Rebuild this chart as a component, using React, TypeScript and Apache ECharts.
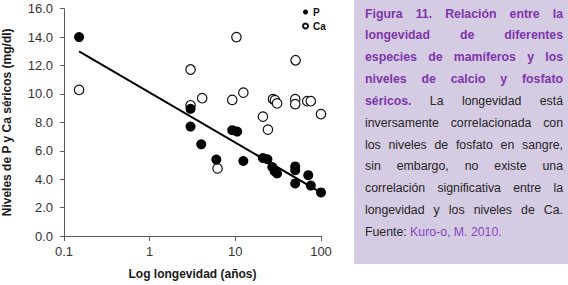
import React, { useEffect, useRef } from "react";
import * as echarts from "echarts";

// ---- data ----
const pLongevity = [0.15, 3, 3, 4, 6, 9.2, 10.5, 12.4, 21, 23.7, 27, 28.8, 30.7, 50, 50, 50, 71, 76, 100];
const pLevel = [14.0, 8.95, 7.7, 6.45, 5.38, 7.45, 7.35, 5.28, 5.49, 5.4, 4.86, 4.56, 4.4, 4.9, 4.63, 3.7, 4.28, 3.55, 3.07];
const caLongevity = [0.15, 3, 3, 4.1, 6.2, 9.2, 10.3, 12.4, 21, 24, 27.5, 29, 30.7, 50.5, 50, 50, 69, 76, 100];
const caLevel = [10.28, 11.72, 9.2, 9.7, 4.76, 9.58, 14.0, 10.09, 8.4, 7.49, 9.63, 9.56, 9.33, 12.37, 9.63, 9.28, 9.49, 9.49, 8.58];
const trendLongevity = [0.15, 100];
const trendLevel = [13.0, 3.05];
const xTickLabels = ["0.1", "1", "10", "100"];
const seriesNames = ["P", "Ca"];

const captionLines: [string, string][][] = [
  [["Figura 11. Relación entre la", "h"]],
  [["longevidad de diferentes", "h"]],
  [["especies de mamíferos y los", "h"]],
  [["niveles de calcio y fosfato", "h"]],
  [["séricos.", "h"], ["La longevidad está", "n"]],
  [["inversamente correlacionada con", "n"]],
  [["los niveles de fosfato en sangre,", "n"]],
  [["sin embargo, no existe una", "n"]],
  [["correlación significativa entre la", "n"]],
  [["longevidad y los niveles de Ca.", "n"]],
  [["Fuente:", "n"], ["Kuro-o, M. 2010.", "l"]],
];

const FONT = '"Liberation Sans", Arial, Helvetica, sans-serif';
const styleOf: Record<string, { fill: string; fontWeight: string }> = {
  h: { fill: "#7d35ad", fontWeight: "bold" },
  n: { fill: "#262626", fontWeight: "normal" },
  l: { fill: "#8447c2", fontWeight: "normal" },
};

function buildCaption(): any[] {
  const ctx = document.createElement("canvas").getContext("2d")!;
  const fs = 12.3;
  const x0 = 365;
  const x1 = 563;
  const y0 = 13.5;
  const lh = 21.85;
  const els: any[] = [];
  captionLines.forEach((line, i) => {
    const words: { t: string; k: string; w: number }[] = [];
    line.forEach(([txt, k]) => {
      txt.split(" ").forEach((t) => {
        ctx.font = `${styleOf[k].fontWeight} ${fs}px ${FONT}`;
        words.push({ t, k, w: ctx.measureText(t).width });
      });
    });
    const total = words.reduce((a, b) => a + b.w, 0);
    const last = i === captionLines.length - 1;
    ctx.font = `normal ${fs}px ${FONT}`;
    const gap = last || words.length < 2 ? ctx.measureText(" ").width : (x1 - x0 - total) / (words.length - 1);
    let x = x0;
    words.forEach((w) => {
      els.push({
        type: "text",
        x,
        y: y0 + i * lh,
        z: 10,
        style: {
          text: w.t,
          fill: styleOf[w.k].fill,
          fontWeight: styleOf[w.k].fontWeight,
          fontSize: fs,
          fontFamily: FONT,
          verticalAlign: "middle",
          align: "left",
        },
      });
      x += w.w + gap;
    });
  });
  return els;
}

export default function App() {
  const ref = useRef<HTMLDivElement>(null);
  useEffect(() => {
    document.body.style.margin = "0";
    const chart = echarts.init(ref.current!, undefined, { renderer: "svg" });
    const axisColor = "#5a5a5a";
    chart.setOption({
      animation: false,
      backgroundColor: "#ffffff",
      textStyle: { fontFamily: FONT },
      grid: { left: 64, right: 247, top: 8.7, bottom: 47, containLabel: false },
      legend: {
        data: seriesNames,
        orient: "vertical",
        left: 302,
        top: 7,
        itemWidth: 5,
        itemHeight: 5,
        itemGap: 4,
        padding: 0,
        icon: "circle",
        textStyle: { fontSize: 10, fontWeight: "bold", color: "#111", fontFamily: FONT },
      },
      xAxis: {
        type: "log",
        logBase: 10,
        min: 0.1,
        max: 100,
        name: "Log longevidad (años)",
        nameLocation: "middle",
        nameGap: 32,
        nameTextStyle: { fontSize: 12, fontWeight: "bold", color: "#1a1a1a", fontFamily: FONT },
        axisLine: { lineStyle: { color: axisColor, width: 1 } },
        axisTick: { show: true, inside: false, length: 5, lineStyle: { color: axisColor } },
        minorTick: { show: false },
        splitLine: { show: false },
        axisLabel: {
          fontSize: 13,
          color: "#333",
          margin: 9,
          fontFamily: FONT,
          formatter: (v: number) => {
            const idx = Math.round(Math.log10(v)) + 1;
            return xTickLabels[idx] ?? String(v);
          },
        },
      },
      yAxis: {
        type: "value",
        min: 0,
        max: 16,
        interval: 2,
        name: "Niveles de P y Ca séricos (mg/dl)",
        nameLocation: "middle",
        nameGap: 51,
        nameTextStyle: { fontSize: 12, fontWeight: "bold", color: "#1a1a1a", fontFamily: FONT },
        axisLine: { show: true, lineStyle: { color: axisColor, width: 1 } },
        axisTick: { show: true, inside: false, length: 4, lineStyle: { color: axisColor } },
        splitLine: { show: false },
        axisLabel: {
          fontSize: 13,
          color: "#333",
          margin: 11,
          fontFamily: FONT,
          formatter: (v: number) => v.toFixed(1),
        },
      },
      graphic: [
        {
          type: "rect",
          shape: { x: 354, y: 0, width: 214, height: 264 },
          style: { fill: "#d5cbe3" },
          z: 0,
        },
        ...buildCaption(),
      ],
      series: [
        {
          name: "trend",
          type: "line",
          data: trendLongevity.map((x, i) => [x, trendLevel[i]]),
          symbol: "none",
          lineStyle: { color: "#000", width: 2 },
          z: 1,
          silent: true,
        },
        {
          name: seriesNames[0],
          type: "scatter",
          data: pLongevity.map((x, i) => [x, pLevel[i]]),
          symbol: "circle",
          symbolSize: 10,
          itemStyle: { color: "#000", opacity: 1 },
          z: 3,
        },
        {
          name: seriesNames[1],
          type: "scatter",
          data: caLongevity.map((x, i) => [x, caLevel[i]]),
          symbol: "circle",
          symbolSize: 9.5,
          itemStyle: { color: "#fff", borderColor: "#111", borderWidth: 1.2, opacity: 1 },
          z: 2,
        },
      ],
    });
    return () => chart.dispose();
  }, []);
  return <div ref={ref} style={{ position: "fixed", left: 0, top: 0, width: 568, height: 285 }} />;
}
